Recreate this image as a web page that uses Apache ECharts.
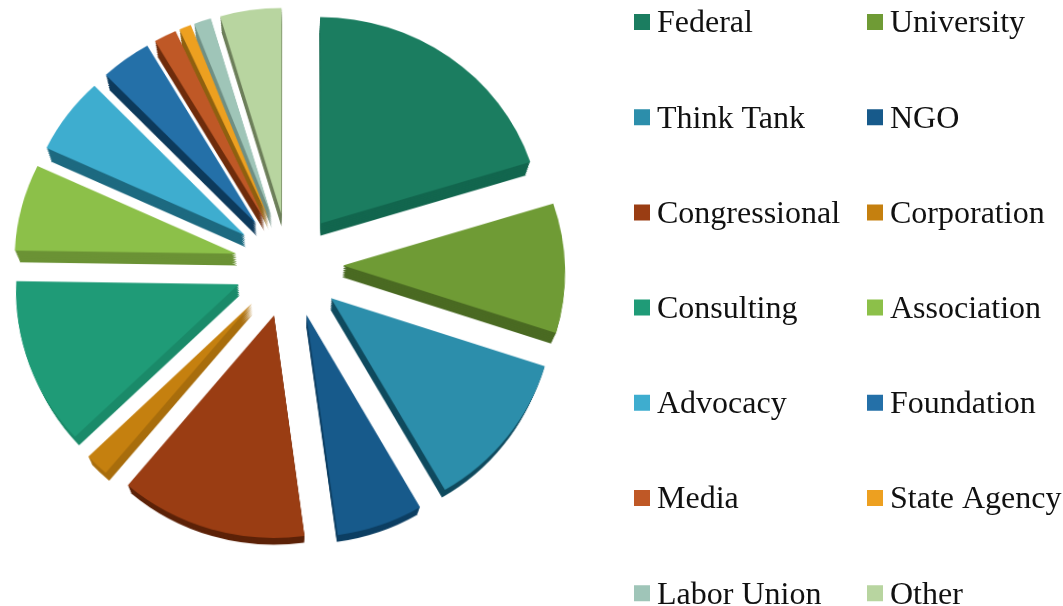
<!DOCTYPE html>
<html>
<head>
<meta charset="utf-8">
<style>
html,body{margin:0;padding:0;background:#fff;width:1063px;height:606px;overflow:hidden}
#pie{position:absolute;left:0;top:-40px;width:1063px;height:700px;transform-origin:289px 305px;transform:perspective(2225px) rotateX(15.5deg)}
#legend{position:absolute;left:0;top:0;width:1063px;height:606px}
</style>
<script src="https://cdn.jsdelivr.net/npm/echarts@6/dist/echarts.min.js"></script>
</head>
<body>
<div id="pie"></div>
<div id="legend"></div>
<script>
const categories = ['Federal','University','Think Tank','NGO','Congressional','Corporation','Consulting','Association','Advocacy','Foundation','Media','State Agency','Labor Union','Other'];
const shares = [20.3,9.8,11.7,6.1,13.2,1.7,12.5,6.6,5.9,3.8,1.7,0.9,1.3,4.6];
const faceColors = ['#1b7d60','#6f9b35','#2c8eab','#175a8b','#9a3d13','#c5800f','#1f9b77','#8cc049','#3eadcf','#2470a8','#bf5826','#eda020','#9fc5b8','#b8d5a0'];
const sideColors = ['#12664e','#4a6a22','#0f4a5e','#0d3f63','#5c2208','#a86d0c','#1a8a69','#6b9235','#1d6a80','#0d3a5c','#6e2c0c','#8f6010','#6f8f84','#6d7f5a'];

const cx = 289, cy = 305, R = 222, offset = 54;
const depthSteps = [1, 0.85, 0.7, 0.55, 0.4, 0.25, 0.1];

const pieData = (colors, selected) => categories.map((name, i) => ({
  name, value: shares[i], selected, itemStyle: { color: colors[i] }
}));
const pieBase = {
  type: 'pie', startAngle: 90, clockwise: true, silent: true, animation: false,
  selectedMode: 'multiple', avoidLabelOverlap: false, minAngle: 0,
  label: { show: false }, labelLine: { show: false }, emphasis: { disabled: true }
};

const chart = echarts.init(document.getElementById('pie'));
chart.setOption({
  backgroundColor: 'transparent',
  animation: false,
  series: depthSteps.map((t, k) => Object.assign({}, pieBase, {
    name: 'side' + k, z: 2 + k,
    center: [cx, cy + 12 * t],
    radius: [0, R * (1 - 0.02 * t)],
    selectedOffset: offset * (1 - 0.02 * t),
    data: pieData(sideColors, true)
  })).concat([Object.assign({}, pieBase, {
    name: 'face', z: 20,
    center: [cx, cy], radius: [0, R], selectedOffset: offset,
    data: pieData(faceColors, true)
  })])
});

const legendStyle = {
  orient: 'vertical', top: 8, height: 700, padding: 0, itemWidth: 16, itemHeight: 20, itemGap: 63.2,
  icon: 'path://M0 0H16V16H0Z M0 20L16 20Z', selectedMode: false,
  textStyle: { fontFamily: 'Liberation Serif', fontSize: 32, lineHeight: 32, color: '#111', padding: [0, 0, 0, 2] }
};
const legendChart = echarts.init(document.getElementById('legend'));
legendChart.setOption({
  backgroundColor: 'transparent',
  animation: false,
  legend: [
    Object.assign({}, legendStyle, { left: 634, data: categories.filter((c, i) => i % 2 === 0) }),
    Object.assign({}, legendStyle, { left: 867, data: categories.filter((c, i) => i % 2 === 1) })
  ],
  series: [Object.assign({}, pieBase, { name: 'key', center: [-50, -50], radius: [0, 0], data: pieData(faceColors, false) })]
});
</script>
</body>
</html>
